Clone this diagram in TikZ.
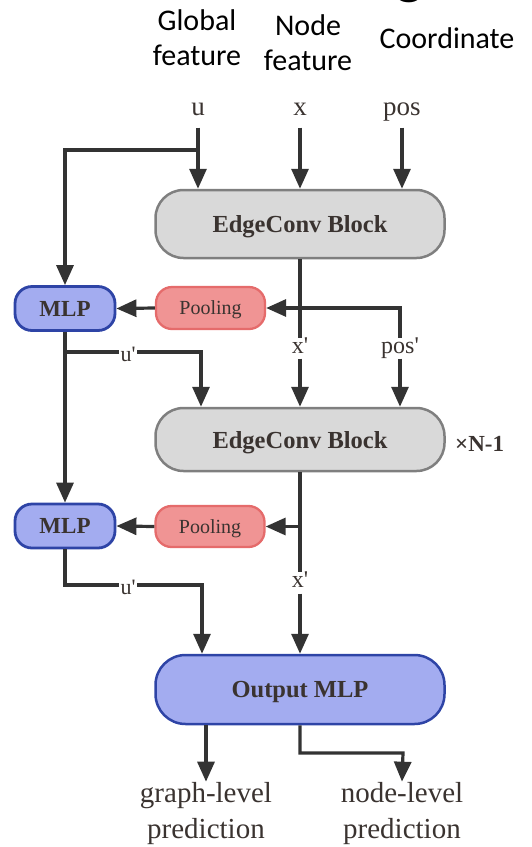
\documentclass[tikz,border=0pt]{standalone}
\usepackage{fontspec}
\setmainfont{Liberation Serif}
\newfontfamily\calfont{Carlito}
\usetikzlibrary{arrows.meta}
\definecolor{ln}{HTML}{333333}
\definecolor{txt}{HTML}{3A3330}
\definecolor{grayfill}{HTML}{D9D9D9}
\definecolor{graydraw}{HTML}{7F7F7F}
\definecolor{bluefill}{HTML}{A3ACF0}
\definecolor{bluedraw}{HTML}{2E44A6}
\definecolor{pinkfill}{HTML}{F09494}
\definecolor{pinkdraw}{HTML}{E56B6B}
\newcommand{\prm}{\textquotesingle}
\begin{document}
\begin{tikzpicture}[x=1pt,y=-1pt,
  conn/.style={draw=ln, line width=3.2pt},
  arr/.style={conn, -{Triangle[length=20pt,width=17pt]}},
  ecblock/.style={draw=graydraw, fill=grayfill, line width=2.5pt, rounded corners=28pt,
    minimum width=289pt, inner sep=0pt, text depth=0pt, text=txt,
    font=\fontsize{24.5}{28}\selectfont\bfseries},
  outblock/.style={draw=bluedraw, fill=bluefill, line width=2.5pt, rounded corners=30pt,
    minimum width=289pt, minimum height=69pt, inner sep=0pt, text depth=0pt, text=txt,
    font=\fontsize{24.5}{28}\selectfont\bfseries},
  mlpbox/.style={draw=bluedraw, fill=bluefill, line width=2.8pt, rounded corners=17pt,
    minimum width=100pt, minimum height=44pt, inner sep=0pt, text depth=0pt, text=txt,
    font=\fontsize{23}{26}\selectfont\bfseries},
  poolbox/.style={draw=pinkdraw, fill=pinkfill, line width=2.3pt, rounded corners=16pt,
    minimum width=109pt, minimum height=42pt, inner sep=0pt, text depth=0pt, text=txt,
    font=\fontsize{20}{24}\selectfont},
  inlbl/.style={inner sep=0pt, anchor=base, text=txt, text height=0.7em, text depth=0.25em,
    font=\fontsize{27}{30}\selectfont},
  midlbl/.style={inner sep=0pt, anchor=base, text=txt, text height=0.7em, text depth=0.25em,
    font=\fontsize{24}{28}\selectfont},
  ulbl/.style={inner sep=1.5pt, fill=white, text=txt, font=\fontsize{22}{24}\selectfont},
  toplbl/.style={inner sep=0pt, anchor=base, align=center,
    font=\calfont\fontsize{30}{35}\selectfont},
  botlbl/.style={inner sep=0pt, anchor=base, align=center, text=txt,
    font=\fontsize{29}{36}\selectfont}
]
\useasboundingbox (0,0) rectangle (531,847);

% fragment of a larger title above the picture
\begin{scope}
\clip (0,0) rectangle (531,847);
\node[inner sep=0pt, anchor=base, font=\calfont\fontsize{60}{60}\selectfont] (gfrag) at (410,-8) {g};
\end{scope}

% top labels (base anchor = baseline of the last line)
\node[toplbl] (gf) at (197,65) {Global\\feature};
\node[toplbl] (nf) at (308,70) {Node\\feature};
\node[toplbl] (co) at (447,48) {Coordinate};

\node[inlbl] (u) at (198,115) {u};
\node[inlbl] (x) at (300,115) {x};
\node[inlbl] (pos) at (402,115) {pos};

% blocks
\node[ecblock, minimum height=68pt] (ec1) at (300,224) {EdgeConv Block};
\node[mlpbox] (mlp1) at (65,308.5) {MLP};
\node[poolbox] (pool1) at (210.5,308) {Pooling};
\node[midlbl] (xp1) at (300,353) {x\prm};
\node[midlbl] (posp1) at (400,353) {pos\prm};
\node[ecblock, minimum height=63pt] (ec2) at (300,439.5) {EdgeConv Block};
\node[inner sep=0pt, anchor=base west, text=txt, font=\fontsize{23}{26}\selectfont\bfseries] (rep) at (455,451) {×N-1};
\node[mlpbox] (mlp2) at (65,526) {MLP};
\node[poolbox, minimum height=41pt] (pool2) at (210,526.5) {Pooling};
\node[midlbl] (xp2) at (300,587) {x\prm};
\node[outblock] (out) at (300,689.5) {Output MLP};
\node[botlbl] (gl) at (206,838) {graph-level\\prediction};
\node[botlbl] (nl) at (402,838) {node-level\\prediction};

% coordinates
\coordinate (ub) at (198,150);
\coordinate (ua1) at (65,352);
\coordinate (uc1) at (201,352);
\coordinate (ua2) at (65,585);
\coordinate (uc2) at (202,585);
\coordinate (ob) at (300,753);
\coordinate (ncol) at (403,753);

% inputs
\draw[arr, shorten <=10pt] (u.south) -- (u.south |- ec1.north);
\draw[arr, shorten <=10pt] (x.south) -- (x.south |- ec1.north);
\draw[arr, shorten <=10pt] (pos.south) -- (pos.south |- ec1.north);
\draw[arr] (ub) -| (mlp1.north);

% first stage
\draw[conn, shorten >=8pt] (ec1.south) -- (xp1.north);
\draw[arr, shorten <=8pt] (posp1.north) |- (pool1.east);
\draw[arr] (pool1.west) -- (mlp1.east);
\draw[arr] (mlp1.south) -- (mlp2.north);
\draw[arr] (ua1) -- (uc1) -- (uc1 |- ec2.north);
\node[ulbl] (up1) at (128,354) {u\prm};
\draw[arr, shorten <=3pt] (xp1.south) -- (xp1.south |- ec2.north);
\draw[arr, shorten <=3pt] (posp1.south) -- (posp1.south |- ec2.north);

% second stage
\draw[conn, shorten >=8pt] (ec2.south) -- (xp2.north);
\draw[arr] (ec2.south |- pool2.east) -- (pool2.east);
\draw[arr] (pool2.west) -- (mlp2.east);
\draw[arr] (mlp2.south) -- (ua2) -- (uc2) -- (uc2 |- out.north);
\node[ulbl] (up2) at (128,587) {u\prm};
\draw[arr, shorten <=4pt] (xp2.south) -- (xp2.south |- out.north);

% outputs
\draw[arr] (out.south -| gl.north) -- (gl.north);
\draw[arr] (out.south) -- (ob) -- (ncol) -- (nl.north);
\end{tikzpicture}
\end{document}
